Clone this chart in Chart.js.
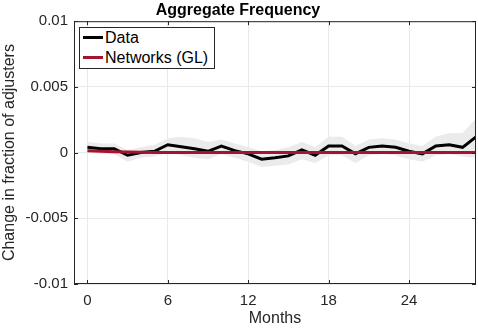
<!DOCTYPE html>
<html>
<head>
<meta charset="utf-8">
<script src="https://cdn.jsdelivr.net/npm/chart.js@4.4.0/dist/chart.umd.min.js"></script>
<style>
  html, body { margin: 0; padding: 0; background: #fff; }
  #wrap { position: relative; width: 478px; height: 328px; }
  #legend {
    position: absolute; left: 79px; top: 27px; width: 134px; height: 40px;
    border: 1px solid #262626; background: #fff;
    font: 16px "Liberation Sans", Arial, sans-serif; color: #000;
  }
  #legend .row { position: absolute; left: 3px; height: 18px; line-height: 18px; white-space: nowrap; }
  #legend .swatch { display: inline-block; width: 20px; height: 3px; vertical-align: middle; margin-right: 2px; position: relative; top: -1px; }
</style>
</head>
<body>
<div id="wrap">
  <canvas id="chart" width="478" height="328"></canvas>
  <div id="legend">
    <div class="row" style="top:1px"><span class="swatch" style="background:#000"></span>Data</div>
    <div class="row" style="top:21px"><span class="swatch" style="background:#A2142F"></span>Networks (GL)</div>
  </div>
</div>
<script>
const months = [0, 1, 2, 3, 4, 5, 6, 7, 8, 9, 10, 11, 12, 13, 14, 15, 16, 17, 18, 19, 20, 21, 22, 23, 24, 25, 26, 27, 28, 29];

const dataValues = [0.0004, 0.0003, 0.0003, -0.0002, 0.0000, 0.0001, 0.0006, 0.00045, 0.0003, 0.0001,
  0.0005, 0.00015, -0.0001, -0.0005, -0.0004, -0.00025, 0.0002, -0.0002, 0.0005, 0.0005,
  -0.0001, 0.0004, 0.0005, 0.0004, 0.0001, -0.0001, 0.0005, 0.0006, 0.0004, 0.0012];

const upperBand = [0.0008, 0.0007, 0.0007, 0.0002, 0.0004, 0.0006, 0.0011, 0.0012, 0.0011, 0.0008,
  0.0010, 0.0007, 0.0004, 0.0001, 0.0002, 0.0004, 0.0008, 0.0004, 0.0012, 0.0012,
  0.0005, 0.0010, 0.0011, 0.0010, 0.0007, 0.0005, 0.0012, 0.0015, 0.0015, 0.0026];

const lowerBand = [0.0000, -0.0001, -0.0001, -0.0007, -0.0004, -0.0003, 0.0000, -0.0002, -0.0004, -0.0005,
  -0.0001, -0.0004, -0.0007, -0.0011, -0.0010, -0.0009, -0.0005, -0.0008, -0.0002, -0.0002,
  -0.0008, -0.0002, -0.0001, -0.0002, -0.0005, -0.0007, -0.0002, -0.0001, -0.0003, -0.0004];

const networkValues = [0.00015, 0.0001, 0.00007, 0.00004, 0.00002, 0.00001, 0, 0, 0, 0,
  0, 0, 0, 0, 0, 0, 0, 0, 0, 0,
  0, 0, 0, 0, 0, 0, 0, 0, 0, 0];

const xTicks = [0, 6, 12, 18, 24];
const yTicks = [-0.01, -0.005, 0, 0.005, 0.01];
const yTickLabels = ['-0.01', '-0.005', '0', '0.005', '0.01'];

const FONT = '"Liberation Sans", Arial, sans-serif';
const axisColor = '#262626';

function pts(values) {
  return months.map((m, i) => ({ x: m, y: values[i] }));
}

// box around the axes plus MATLAB style inward ticks
const boxPlugin = {
  id: 'box',
  afterDraw(chart) {
    const { ctx, chartArea: a, scales } = chart;
    ctx.save();
    ctx.strokeStyle = axisColor;
    ctx.lineWidth = 1;
    ctx.strokeRect(a.left + 0.5, a.top + 0.5, a.right - a.left - 1, a.bottom - a.top - 1);
    ctx.beginPath();
    xTicks.forEach(v => {
      const x = Math.round(scales.x.getPixelForValue(v)) + 0.5;
      ctx.moveTo(x, a.bottom); ctx.lineTo(x, a.bottom - 4);
      ctx.moveTo(x, a.top); ctx.lineTo(x, a.top + 4);
    });
    yTicks.forEach(v => {
      const y = Math.round(scales.y.getPixelForValue(v)) + 0.5;
      ctx.moveTo(a.left, y); ctx.lineTo(a.left + 4, y);
      ctx.moveTo(a.right, y); ctx.lineTo(a.right - 4, y);
    });
    ctx.stroke();
    ctx.restore();
  }
};

new Chart('chart', {
  type: 'line',
  data: {
    datasets: [
      {
        label: 'upper',
        data: pts(upperBand),
        borderWidth: 0,
        pointRadius: 0,
        fill: false,
        order: 3
      },
      {
        label: 'lower',
        data: pts(lowerBand),
        borderWidth: 0,
        pointRadius: 0,
        backgroundColor: '#ebebeb',
        fill: '-1',
        order: 3
      },
      {
        label: 'Data',
        data: pts(dataValues),
        borderColor: '#000000',
        borderWidth: 3,
        pointRadius: 0,
        fill: false,
        order: 2
      },
      {
        label: 'Networks (GL)',
        data: pts(networkValues),
        borderColor: '#A2142F',
        borderWidth: 3,
        pointRadius: 0,
        fill: false,
        order: 1
      }
    ]
  },
  options: {
    responsive: false,
    animation: false,
    layout: { padding: { left: 0, right: 2, top: 0, bottom: 0 } },
    plugins: {
      legend: { display: false },
      tooltip: { enabled: false },
      title: {
        display: true,
        text: 'Aggregate Frequency',
        color: '#000',
        font: { family: FONT, size: 16, weight: 'bold' },
        padding: { top: 1, bottom: 1 }
      }
    },
    scales: {
      x: {
        type: 'linear',
        min: -1,
        max: 29,
        afterBuildTicks: s => { s.ticks = xTicks.map(v => ({ value: v })); },
        afterFit: s => { s.height = 44; },
        grid: { color: '#e9e9e9', drawTicks: false },
        border: { display: false },
        ticks: { color: axisColor, font: { family: FONT, size: 15 }, padding: 8, maxRotation: 0 },
        title: {
          display: true, text: 'Months', color: axisColor,
          font: { family: FONT, size: 16 }, padding: { top: 0, bottom: 0 }
        }
      },
      y: {
        min: -0.01,
        max: 0.01,
        afterBuildTicks: s => { s.ticks = yTicks.map(v => ({ value: v })); },
        afterFit: s => { s.width = 74; },
        grid: { color: '#e9e9e9', drawTicks: false },
        border: { display: false },
        ticks: {
          color: axisColor, font: { family: FONT, size: 15 }, padding: 6,
          callback: v => yTickLabels[yTicks.indexOf(v)]
        },
        title: {
          display: true, text: 'Change in fraction of adjusters', color: axisColor,
          font: { family: FONT, size: 16 }, padding: { top: 0, bottom: 0 }
        }
      }
    }
  },
  plugins: [boxPlugin]
});
</script>
</body>
</html>
